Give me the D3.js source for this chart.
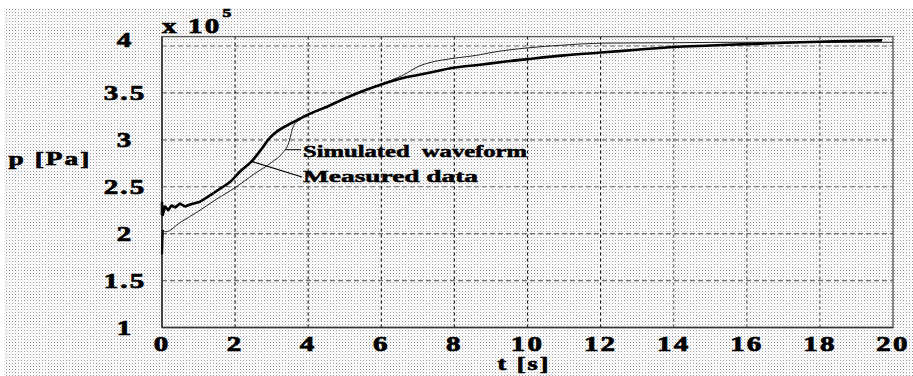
<!DOCTYPE html>
<html><head><meta charset="utf-8">
<script src="https://cdn.jsdelivr.net/npm/d3@7"></script>
<style>body{margin:0;background:#fff}svg{display:block}</style>
</head><body>
<svg id="c" width="913" height="376"></svg>
<script>
// ---- data (p in units of 1e5 Pa) ----
const measuredT = [0, 0.0, 0.02, 0.08, 0.17, 0.26, 0.36, 0.49, 0.63, 0.77, 1.04, 1.40, 1.59, 1.86, 2.13, 2.45, 2.7, 2.95, 3.15, 3.4, 3.7, 4.0, 4.5, 5.0, 5.5, 6.0, 6.6, 7.0, 7.5, 8.0, 8.7, 9.3, 10, 11, 12, 13, 14, 15, 16, 17, 18, 19, 19.7];
const measuredP = [2.2, 2.33, 2.20, 2.29, 2.25, 2.30, 2.28, 2.32, 2.29, 2.31, 2.34, 2.43, 2.48, 2.55, 2.66, 2.77, 2.89, 3.02, 3.09, 3.15, 3.21, 3.27, 3.35, 3.44, 3.52, 3.59, 3.66, 3.69, 3.73, 3.77, 3.80, 3.83, 3.86, 3.90, 3.93, 3.96, 3.99, 4.005, 4.02, 4.035, 4.045, 4.055, 4.06];
const simulatedT = [0, 0.02, 0.1, 0.5, 1.0, 1.5, 2.0, 2.5, 3.0, 3.3, 3.45, 3.6, 3.75, 4.05, 4.5, 5.0, 5.5, 6.0, 6.6, 7.06, 7.3, 8.0, 8.6, 9.0, 10, 11, 12, 14, 16, 18, 20];
const simulatedP = [1.78, 2.04, 2.02, 2.12, 2.24, 2.37, 2.49, 2.63, 2.76, 2.86, 2.95, 3.15, 3.21, 3.28, 3.355, 3.445, 3.525, 3.595, 3.69, 3.79, 3.82, 3.87, 3.90, 3.93, 3.98, 4.01, 4.03, 4.035, 4.04, 4.04, 4.04];
const xTicks = [0, 2, 4, 6, 8, 10, 12, 14, 16, 18, 20];
const xTickLabels = ["0", "2", "4", "6", "8", "10", "12", "14", "16", "18", "20"];
const yTicks = [1, 1.5, 2, 2.5, 3, 3.5, 4];
const yTickLabels = ["1", "1.5", "2", "2.5", "3", "3.5", "4"];
const seriesNames = ["Simulated  waveform", "Measured data"];

// ---- layout ----
const svg = d3.select("#c");
const L = 162, R = 893, B = 327.5;
const x = d3.scaleLinear().domain([0, 20]).range([L, R]);
const y = d3.scaleLinear().domain([1, 4]).range([B, 46]);
const T = y(4.1);
const FONT = "'Liberation Serif','Times New Roman',serif";

// dotted background
const defs = svg.append("defs");
const pat = defs.append("pattern").attr("id", "dots").attr("width", 3).attr("height", 3)
  .attr("patternUnits", "userSpaceOnUse");
pat.append("rect").attr("width", 3).attr("height", 3).attr("fill", "#fff");
pat.append("rect").attr("width", 1).attr("height", 1).attr("fill", "#999");
pat.append("rect").attr("x", 1.5).attr("y", 1.5).attr("width", 1).attr("height", 1).attr("fill", "#cfcfcf");
svg.append("rect").attr("x", 4).attr("y", 8).attr("width", 909).attr("height", 368).attr("fill", "url(#dots)");

// grid
svg.append("g").selectAll("line").data(yTicks.filter(v => v > 1)).join("line")
  .attr("x1", L).attr("x2", R).attr("y1", d => y(d)).attr("y2", d => y(d))
  .attr("stroke", "#6e6e6e").attr("stroke-width", 1.1).attr("stroke-dasharray", "5,3");
svg.append("g").selectAll("line").data(xTicks.filter(v => v > 0 && v < 20)).join("line")
  .attr("x1", d => x(d)).attr("x2", d => x(d)).attr("y1", T).attr("y2", B)
  .attr("stroke", d => d <= 12 ? "#111" : "#555").attr("stroke-width", 1.1).attr("stroke-dasharray", "3,3");

// frame
svg.append("rect").attr("x", L).attr("y", T).attr("width", R - L).attr("height", B - T)
  .attr("fill", "none").attr("stroke", "#5a5a5a").attr("stroke-width", 1.4);
svg.append("line").attr("x1", L).attr("x2", L).attr("y1", T).attr("y2", B).attr("stroke", "#444").attr("stroke-width", 2);
svg.append("line").attr("x1", L).attr("x2", R).attr("y1", B).attr("y2", B).attr("stroke", "#333").attr("stroke-width", 1.5);

// curves
const line = d3.line().x(d => x(d[0])).y(d => y(d[1]));
const smooth = d3.line().x(d => x(d[0])).y(d => y(d[1])).curve(d3.curveMonotoneX);
const sim = simulatedT.map((t, i) => [t, simulatedP[i]]);
const meas = measuredT.map((t, i) => [t, measuredP[i]]);
svg.append("path").attr("d", line(sim.slice(0, 2))).attr("fill", "none").attr("stroke", "#000").attr("stroke-width", 2.2);
svg.append("path").attr("d", smooth(sim.slice(1))).attr("fill", "none").attr("stroke", "#222").attr("stroke-width", 1);
svg.append("path").attr("d", line(meas.slice(0, 12))).attr("fill", "none").attr("stroke", "#000").attr("stroke-width", 2.6)
  .attr("stroke-linejoin", "round");
svg.append("path").attr("d", smooth(meas.slice(11))).attr("fill", "none").attr("stroke", "#000").attr("stroke-width", 2.6)
  .attr("stroke-linejoin", "round");

// text helper (heavy, horizontally stretched serif)
function label(txt, cx, by, size, sx, anchor) {
  return svg.append("text").attr("transform", `translate(${cx},${by}) scale(${sx},1)`)
    .attr("font-family", FONT).attr("font-weight", "bold").attr("font-size", size)
    .attr("text-anchor", anchor || "middle").attr("letter-spacing", 1.5)
    .attr("fill", "#000").attr("stroke", "#000").attr("stroke-width", 0.7).text(txt);
}

// tick labels
xTicks.forEach((v, i) => label(xTickLabels[i], x(v), 351, 20, 1.45));
yTicks.forEach((v, i) => label(yTickLabels[i], 125, y(v) + 7 - (v === 4 ? 6 : 0), 20, 1.45));

// axis titles
label("t [s]", 524, 370, 18.5, 1.4);
label("p [Pa]", 50, 165, 19.5, 1.4);
label("x 10", 162, 33, 20, 1.45, "start");
label("5", 227, 17, 13, 1.35).attr("letter-spacing", 0);

// annotations
svg.append("line").attr("x1", x(3.38)).attr("y1", y(2.895)).attr("x2", 301).attr("y2", y(2.895))
  .attr("stroke", "#000").attr("stroke-width", 1);
svg.append("line").attr("x1", x(2.45)).attr("y1", y(2.77)).attr("x2", 302).attr("y2", 177)
  .attr("stroke", "#000").attr("stroke-width", 1.3);
svg.append("text").attr("x", 303).attr("y", 157).attr("font-family", FONT).attr("font-weight", "bold")
  .attr("font-size", 16).attr("textLength", 224).attr("lengthAdjust", "spacingAndGlyphs")
  .attr("stroke", "#000").attr("stroke-width", 0.5)
  .attr("xml:space", "preserve").style("white-space", "pre").text(seriesNames[0]);
svg.append("text").attr("x", 303).attr("y", 182).attr("font-family", FONT).attr("font-weight", "bold")
  .attr("font-size", 16).attr("textLength", 175).attr("lengthAdjust", "spacingAndGlyphs")
  .attr("stroke", "#000").attr("stroke-width", 0.5).text(seriesNames[1]);
</script>
</body></html>
